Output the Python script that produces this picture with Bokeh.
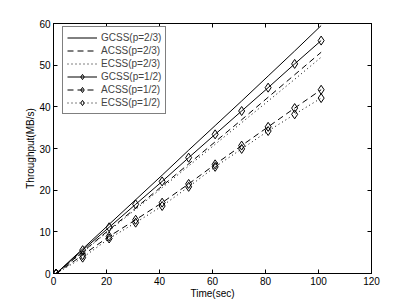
from bokeh.plotting import figure
from bokeh.models import LinearAxis, Range1d, FixedTicker, Legend, CustomJSTickFormatter
from bokeh.embed import file_html
from bokeh.resources import INLINE

time_sec = [1, 11, 21, 31, 41, 51, 61, 71, 81, 91, 101]
gcss_23 = [0, 5.9, 11.8, 17.7, 23.6, 29.6, 35.5, 41.4, 47.4, 53.4, 59.5]
acss_23 = [0, 5.2, 10.5, 15.7, 21.0, 26.3, 31.6, 36.9, 42.3, 47.7, 53.1]
ecss_23 = [0, 5.1, 10.3, 15.4, 20.6, 25.8, 31.0, 36.2, 41.4, 46.6, 51.9]
gcss_12 = [0, 5.6, 11.1, 16.6, 22.1, 27.8, 33.4, 39.0, 44.6, 50.3, 55.9]
acss_12 = [0, 4.4, 8.9, 12.9, 17.0, 21.5, 26.2, 30.7, 35.2, 39.7, 44.1]
ecss_12 = [0, 3.8, 8.4, 12.2, 16.2, 20.8, 25.6, 29.9, 34.2, 38.2, 42.1]
x_ticks = [0, 20, 40, 60, 80, 100, 120]
y_ticks = [0, 10, 20, 30, 40, 50, 60]

FONT = "Liberation Sans"

p = figure(width=400, height=301, output_backend="svg", toolbar_location=None,
           x_range=Range1d(0, 120), y_range=Range1d(0, 60),
           min_border_left=53, min_border_right=29, min_border_top=23, min_border_bottom=28,
           x_axis_label="Time(sec)", y_axis_label="Throughput(MB/s)")
p.grid.visible = False
p.outline_line_color = "black"
p.outline_line_width = 1

for ax in [p.xaxis[0], p.yaxis[0]]:
    ax.major_tick_in = 4
    ax.major_tick_out = 0
    ax.minor_tick_line_color = None
    ax.axis_line_color = "black"
    ax.major_label_text_font = FONT
    ax.major_label_text_font_size = "10px"
    ax.major_label_text_color = "black"
    ax.axis_label_text_font = FONT
    ax.axis_label_text_font_size = "10px"
    ax.axis_label_text_font_style = "normal"
    ax.axis_label_text_color = "black"
    ax.axis_label_standoff = 0
    ax.major_label_standoff = 3
p.xaxis[0].ticker = FixedTicker(ticks=x_ticks)
p.yaxis[0].ticker = FixedTicker(ticks=y_ticks)

blank = CustomJSTickFormatter(code="return '';")
top = LinearAxis(ticker=FixedTicker(ticks=x_ticks), formatter=blank,
                 major_tick_in=4, major_tick_out=0, minor_tick_line_color=None,
                 axis_line_color="black", major_label_standoff=0)
right = LinearAxis(ticker=FixedTicker(ticks=y_ticks), formatter=blank,
                   major_tick_in=4, major_tick_out=0, minor_tick_line_color=None,
                   axis_line_color="black", major_label_standoff=0)
p.add_layout(top, "above")
p.add_layout(right, "right")

r1 = p.line(time_sec, gcss_23, line_color="black", line_width=1)
r2 = p.line(time_sec, acss_23, line_color="black", line_width=1, line_dash="6 4")
r3 = p.line(time_sec, ecss_23, line_color="black", line_width=1, line_dash="1 3")
r4 = p.line(time_sec, gcss_12, line_color="black", line_width=1)
m4 = p.scatter(time_sec, gcss_12, marker="diamond", size=9, fill_color=None, line_color="black")
r5 = p.line(time_sec, acss_12, line_color="black", line_width=1, line_dash="6 4")
m5 = p.scatter(time_sec, acss_12, marker="diamond", size=9, fill_color=None, line_color="black")
r6 = p.line(time_sec, ecss_12, line_color="black", line_width=1, line_dash="1 3")
m6 = p.scatter(time_sec, ecss_12, marker="diamond", size=9, fill_color=None, line_color="black")

legend = Legend(items=[
    ("GCSS(p=2/3)", [r1]),
    ("ACSS(p=2/3)", [r2]),
    ("ECSS(p=2/3)", [r3]),
    ("GCSS(p=1/2)", [r4, m4]),
    ("ACSS(p=1/2)", [r5, m5]),
    ("ECSS(p=1/2)", [r6, m6]),
], location=(9, 159))
legend.label_text_font = FONT
legend.label_text_font_size = "10px"
legend.glyph_width = 30
legend.glyph_height = 13
legend.label_height = 13
legend.spacing = 0
legend.padding = 4
legend.margin = 0
legend.label_standoff = 4
legend.border_line_color = "black"
legend.border_line_width = 1
legend.background_fill_alpha = 1
p.add_layout(legend, "center")

open("out.html", "w").write(file_html(p, INLINE))
